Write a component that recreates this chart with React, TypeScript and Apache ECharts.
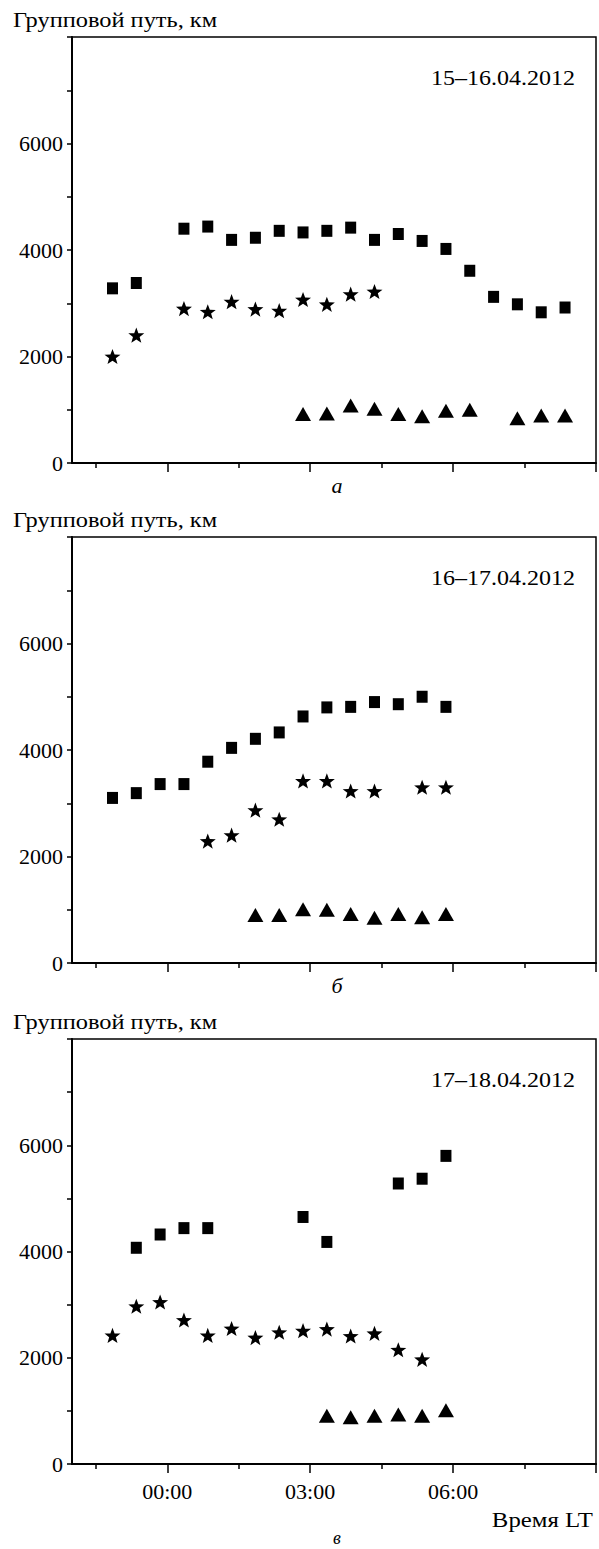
import React, { useEffect, useRef } from "react";
import * as echarts from "echarts";

// ---- data (hours relative to 00:00 LT, group path in km) ----
const panelTitles = ["15–16.04.2012", "16–17.04.2012", "17–18.04.2012"];
const panelLetters = ["а", "б", "в"];
const yTitle = "Групповой путь, км";
const xTitle = "Время LT";
const yLabelValues = [0, 2000, 4000, 6000];
const xMajorTicks = [0, 3, 6, 9];
const xMinorTicks = [-1.5, 1.5, 4.5, 7.5];
const xLabelValues = [0, 3, 6];

// Panel а
const hoursSqA = [-1.15, -0.65, 0.35, 0.85, 1.35, 1.85, 2.35, 2.85, 3.35, 3.85, 4.35, 4.85, 5.35, 5.85, 6.35, 6.85, 7.35, 7.85, 8.35];
const squaresA = [3280, 3380, 4400, 4440, 4190, 4230, 4360, 4330, 4360, 4420, 4190, 4300, 4170, 4020, 3610, 3120, 2980, 2830, 2920];
const hoursStA = [-1.15, -0.65, 0.35, 0.85, 1.35, 1.85, 2.35, 2.85, 3.35, 3.85, 4.35];
const starsA = [2000, 2400, 2900, 2840, 3030, 2890, 2860, 3070, 2980, 3170, 3220];
const hoursTrA = [2.85, 3.35, 3.85, 4.35, 4.85, 5.35, 5.85, 6.35, 7.35, 7.85, 8.35];
const trianglesA = [920, 930, 1080, 1020, 920, 880, 980, 1000, 840, 890, 890];

// Panel б
const hoursSqB = [-1.15, -0.65, -0.15, 0.35, 0.85, 1.35, 1.85, 2.35, 2.85, 3.35, 3.85, 4.35, 4.85, 5.35, 5.85];
const squaresB = [3100, 3190, 3360, 3360, 3780, 4040, 4210, 4330, 4630, 4800, 4810, 4900, 4860, 5000, 4810];
const hoursStB = [0.85, 1.35, 1.85, 2.35, 2.85, 3.35, 3.85, 4.35, 5.35, 5.85];
const starsB = [2290, 2400, 2870, 2700, 3420, 3420, 3230, 3230, 3300, 3300];
const hoursTrB = [1.85, 2.35, 2.85, 3.35, 3.85, 4.35, 4.85, 5.35, 5.85];
const trianglesB = [900, 900, 1010, 1000, 920, 850, 920, 860, 920];

// Panel в
const hoursSqC = [-0.65, -0.15, 0.35, 0.85, 2.85, 3.35, 4.85, 5.35, 5.85];
const squaresC = [4070, 4320, 4440, 4440, 4650, 4180, 5280, 5370, 5800];
const hoursStC = [-1.15, -0.65, -0.15, 0.35, 0.85, 1.35, 1.85, 2.35, 2.85, 3.35, 3.85, 4.35, 4.85, 5.35];
const starsC = [2420, 2970, 3050, 2710, 2420, 2550, 2380, 2480, 2510, 2540, 2410, 2460, 2150, 1970];
const hoursTrC = [3.35, 3.85, 4.35, 4.85, 5.35, 5.85];
const trianglesC = [910, 880, 910, 930, 910, 1010];

const panels = [
  { sq: [hoursSqA, squaresA], st: [hoursStA, starsA], tr: [hoursTrA, trianglesA] },
  { sq: [hoursSqB, squaresB], st: [hoursStB, starsB], tr: [hoursTrB, trianglesB] },
  { sq: [hoursSqC, squaresC], st: [hoursStC, starsC], tr: [hoursTrC, trianglesC] },
];

const FONT = "'Liberation Serif', 'Times New Roman', serif";
const STAR =
  "path://M50 0 L62.5 33.5 L98 34.5 L70 56.5 L80 91 L50 71 L20 91 L30 56.5 L2 34.5 L37.5 33.5 Z";

const gridTops = [37, 537, 1039];
const gridH = [426, 426, 425];

function zip(xs: number[], ys: number[]) {
  return xs.map((x, i) => [x, ys[i]]);
}

export default function App() {
  const ref = useRef<HTMLDivElement>(null);
  useEffect(() => {
    if (!ref.current) return;
    const chart = echarts.init(ref.current, null, { renderer: "svg" });
    const grid: any[] = [];
    const xAxis: any[] = [];
    const yAxis: any[] = [];
    const series: any[] = [];
    const graphic: any[] = [];

    panels.forEach((p, i) => {
      grid.push({
        left: 72,
        top: gridTops[i],
        width: 524,
        height: gridH[i],
        show: true,
        borderColor: "#000",
        borderWidth: 1.5,
        backgroundColor: "transparent",
      });
      xAxis.push({
        gridIndex: i,
        type: "value",
        min: -2,
        max: 9,
        position: "bottom",
        axisLine: { show: true, onZero: false, lineStyle: { color: "#000", width: 2 } },
        axisTick: { show: true, customValues: xMinorTicks, length: 5, lineStyle: { color: "#000", width: 1.5 } },
        axisLabel: { show: false },
        splitLine: { show: false },
      });
      xAxis.push({
        gridIndex: i,
        type: "value",
        min: -2,
        max: 9,
        position: "bottom",
        axisLine: { show: false, onZero: false },
        axisTick: { show: true, customValues: xMajorTicks, length: 9, lineStyle: { color: "#000", width: 1.5 } },
        axisLabel: {
          show: i === 2,
          customValues: xLabelValues,
          formatter: (v: number) => String(v).padStart(2, "0") + ":00",
          fontFamily: FONT,
          fontSize: 22,
          color: "#000",
          margin: 16,
        },
        splitLine: { show: false },
      });
      yAxis.push({
        gridIndex: i,
        type: "value",
        min: 0,
        max: 8000,
        interval: 1000,
        axisLine: { show: true, onZero: false, lineStyle: { color: "#000", width: 2 } },
        axisTick: { show: true, length: 5, lineStyle: { color: "#000", width: 1.5 } },
        axisLabel: {
          customValues: yLabelValues,
          formatter: (v: number) => String(v),
          fontFamily: FONT,
          fontSize: 22,
          color: "#000",
          margin: 9,
        },
        splitLine: { show: false },
      });
      const base = { type: "scatter", xAxisIndex: 2 * i, yAxisIndex: i, itemStyle: { color: "#000", opacity: 1 }, silent: true };
      series.push({ ...base, name: "sq" + i, symbol: "rect", symbolSize: [11, 12], data: zip(p.sq[0], p.sq[1]) });
      series.push({ ...base, name: "st" + i, symbol: STAR, symbolKeepAspect: true, symbolSize: 16, data: zip(p.st[0], p.st[1]) });
      series.push({ ...base, name: "tr" + i, symbol: "triangle", symbolSize: [16, 14], data: zip(p.tr[0], p.tr[1]) });

      graphic.push({
        type: "text",
        x: 13,
        y: gridTops[i] - 17,
        scaleX: 1.22,
        style: { text: yTitle, font: `20px ${FONT}`, fill: "#000", align: "left", verticalAlign: "middle" },
      });
      graphic.push({
        type: "text",
        x: 575,
        y: gridTops[i] + 41,
        scaleX: 1.2,
        style: { text: panelTitles[i], font: `20px ${FONT}`, fill: "#000", align: "right", verticalAlign: "middle" },
      });
    });

    graphic.push({
      type: "text", x: 337, y: 485,
      style: { text: panelLetters[0], font: `italic 22px ${FONT}`, fill: "#000", align: "center", verticalAlign: "middle" },
    });
    graphic.push({
      type: "text", x: 337, y: 985,
      style: { text: panelLetters[1], font: `italic 22px ${FONT}`, fill: "#000", align: "center", verticalAlign: "middle" },
    });
    graphic.push({
      type: "text", x: 337, y: 1538,
      style: { text: panelLetters[2], font: `italic 18px ${FONT}`, fill: "#000", align: "center", verticalAlign: "middle" },
    });
    graphic.push({
      type: "text", x: 593, y: 1520, scaleX: 1.18,
      style: { text: xTitle, font: `21px ${FONT}`, fill: "#000", align: "right", verticalAlign: "middle" },
    });

    chart.setOption({
      animation: false,
      backgroundColor: "#fff",
      grid,
      xAxis,
      yAxis,
      series,
      graphic,
    });
    return () => chart.dispose();
  }, []);
  return <div ref={ref} style={{ position: "absolute", left: 0, top: 0, width: 599, height: 1549 }} />;
}
